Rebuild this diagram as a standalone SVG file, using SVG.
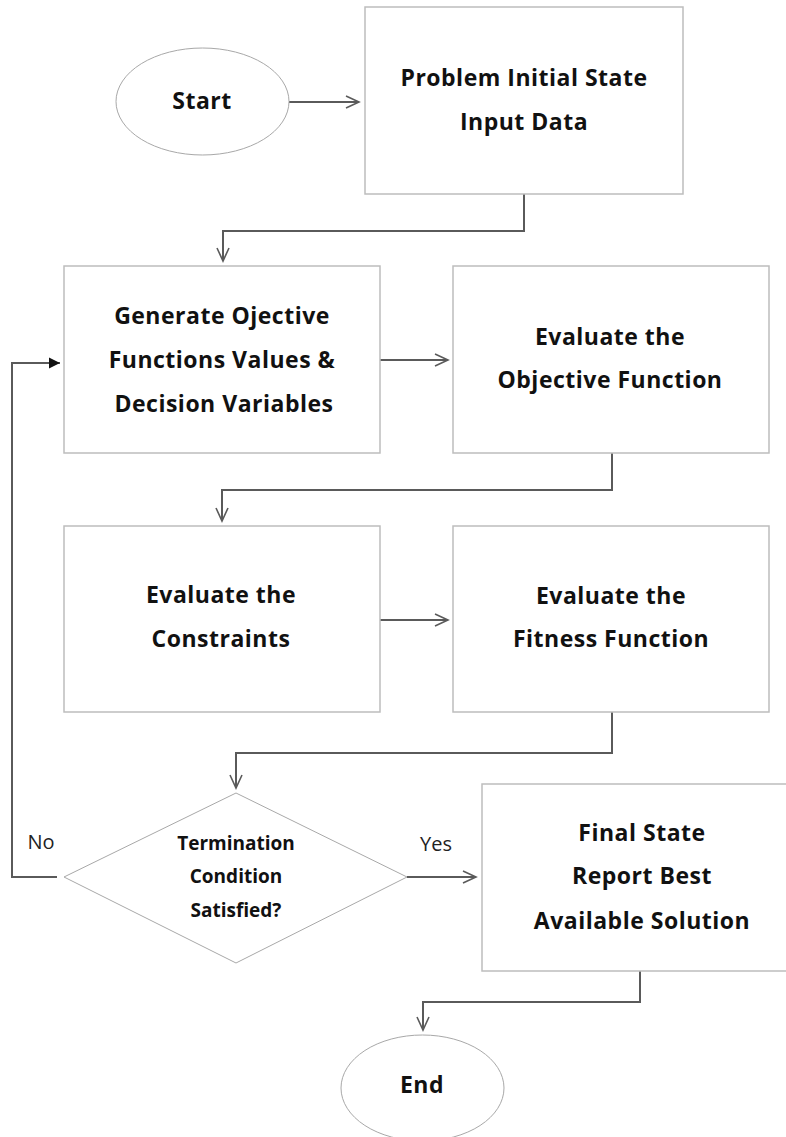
<svg xmlns="http://www.w3.org/2000/svg" width="786" height="1137" viewBox="0 0 786 1137">
  <style>
    .box { fill: #ffffff; stroke: #bdbdbd; stroke-width: 1.5; }
    .term { fill: #ffffff; stroke: #a8a8a8; stroke-width: 1; }
    .conn { fill: none; stroke: #5a5a5a; stroke-width: 2; }
    .lbl { font-family: "Open Sans", "Liberation Sans", sans-serif; font-weight: 700; font-size: 23px; letter-spacing: 0.5px; fill: #111111; text-anchor: middle; }
    .small { font-size: 19px; letter-spacing: 0; }
    .edge { font-family: "Open Sans", "Liberation Sans", sans-serif; font-size: 20px; fill: #222222; text-anchor: middle; }
  </style>
  <defs>
    <marker id="open" markerUnits="userSpaceOnUse" markerWidth="16" markerHeight="16" viewBox="0 0 16 16" refX="14" refY="8" orient="auto">
      <path d="M1,2 L14,8 L1,14" fill="none" stroke="#5a5a5a" stroke-width="1.6"/>
    </marker>
    <marker id="solid" markerUnits="userSpaceOnUse" markerWidth="14" markerHeight="14" viewBox="0 0 14 14" refX="12" refY="7" orient="auto">
      <path d="M1,1.5 L12,7 L1,12.5 Z" fill="#111111"/>
    </marker>
  </defs>

  <rect width="786" height="1137" fill="#ffffff"/>

  <g id="connectors">
    <path class="conn" d="M289,102 H359" marker-end="url(#open)"/>
    <path class="conn" d="M524,194 V231 H223 V261" marker-end="url(#open)"/>
    <path class="conn" d="M380,360 H448" marker-end="url(#open)"/>
    <path class="conn" d="M612,453 V490 H222 V521" marker-end="url(#open)"/>
    <path class="conn" d="M380,620 H448" marker-end="url(#open)"/>
    <path class="conn" d="M612,712 V753 H236 V788" marker-end="url(#open)"/>
    <path class="conn" d="M407,877 H476" marker-end="url(#open)"/>
    <path class="conn" d="M57,877 H12 V363 H60" marker-end="url(#solid)"/>
    <path class="conn" d="M640,971 V1002 H423 V1030" marker-end="url(#open)"/>
    <text class="edge" x="41" y="849">No</text>
    <text class="edge" x="436" y="851">Yes</text>
  </g>

  <g id="start">
    <ellipse class="term" cx="202.5" cy="101.5" rx="86.5" ry="53.5"/>
    <text class="lbl" x="202" y="109">Start</text>
  </g>

  <g id="problem">
    <rect class="box" x="365" y="7" width="318" height="187"/>
    <text class="lbl" x="524" y="86">Problem Initial State</text>
    <text class="lbl" x="524" y="130">Input Data</text>
  </g>

  <g id="generate">
    <rect class="box" x="64" y="266" width="316" height="187"/>
    <text class="lbl" x="222" y="324">Generate Ojective</text>
    <text class="lbl" x="222" y="368">Functions Values &amp;</text>
    <text class="lbl" x="224" y="412">Decision Variables</text>
  </g>

  <g id="objective">
    <rect class="box" x="453" y="266" width="316" height="187"/>
    <text class="lbl" x="610" y="345">Evaluate the</text>
    <text class="lbl" x="610" y="388">Objective Function</text>
  </g>

  <g id="constraints">
    <rect class="box" x="64" y="526" width="316" height="186"/>
    <text class="lbl" x="221" y="603">Evaluate the</text>
    <text class="lbl" x="221" y="647">Constraints</text>
  </g>

  <g id="fitness">
    <rect class="box" x="453" y="526" width="316" height="186"/>
    <text class="lbl" x="611" y="604">Evaluate the</text>
    <text class="lbl" x="611" y="647">Fitness Function</text>
  </g>

  <g id="decision">
    <polygon class="term" points="236,793 407,877 236,963 64,877"/>
    <text class="lbl small" x="236" y="850">Termination</text>
    <text class="lbl small" x="236" y="883">Condition</text>
    <text class="lbl small" x="236" y="917">Satisfied?</text>
  </g>

  <g id="final">
    <rect class="box" x="482" y="784" width="320" height="187"/>
    <text class="lbl" x="642" y="841">Final State</text>
    <text class="lbl" x="642" y="884">Report Best</text>
    <text class="lbl" x="642" y="929">Available Solution</text>
  </g>

  <g id="end">
    <ellipse class="term" cx="422.5" cy="1088" rx="81.5" ry="53"/>
    <text class="lbl" x="422" y="1093">End</text>
  </g>
</svg>
